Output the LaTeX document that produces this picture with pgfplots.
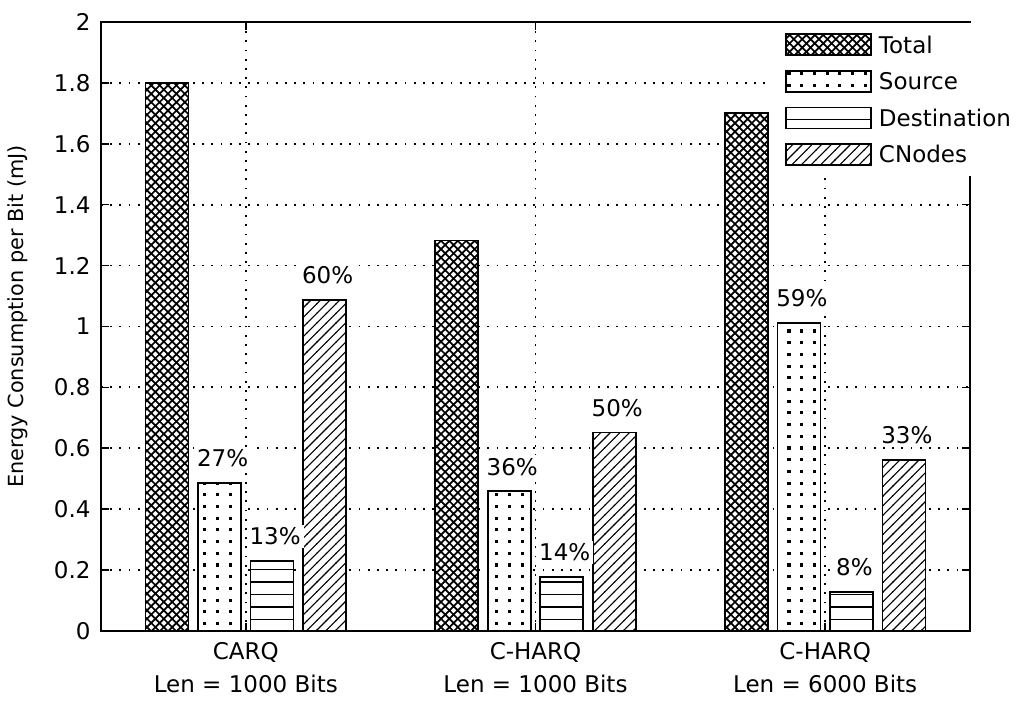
\documentclass[border=0pt]{standalone}
\usepackage{pgfplots}
\pgfplotsset{compat=1.18}
\usepackage{fontspec}
\setmainfont{DejaVu Sans}
\usetikzlibrary{patterns}

\pgfdeclarepatternformonly{xdiag}{\pgfqpoint{-0.6pt}{-0.6pt}}{\pgfqpoint{4.8pt}{4.8pt}}{\pgfqpoint{4.2pt}{4.2pt}}{%
  \pgfsetlinewidth{0.85pt}%
  \pgfpathmoveto{\pgfqpoint{-0.3pt}{-0.3pt}}\pgfpathlineto{\pgfqpoint{4.5pt}{4.5pt}}%
  \pgfpathmoveto{\pgfqpoint{-0.3pt}{4.5pt}}\pgfpathlineto{\pgfqpoint{4.5pt}{-0.3pt}}%
  \pgfusepath{stroke}}
\pgfdeclarepatternformonly{sqdots}{\pgfqpoint{-0.5pt}{-0.5pt}}{\pgfqpoint{6.6pt}{6.2pt}}{\pgfqpoint{6.35pt}{5.85pt}}{%
  \pgfpathrectangle{\pgfqpoint{0pt}{0pt}}{\pgfqpoint{1.55pt}{1.55pt}}%
  \pgfusepath{fill}}
\pgfdeclarepatternformonly{hlines}{\pgfqpoint{-0.5pt}{-0.5pt}}{\pgfqpoint{6.5pt}{6.5pt}}{\pgfqpoint{6.25pt}{6.25pt}}{%
  \pgfsetlinewidth{0.7pt}%
  \pgfpathmoveto{\pgfqpoint{-0.2pt}{0pt}}\pgfpathlineto{\pgfqpoint{6.45pt}{0pt}}%
  \pgfusepath{stroke}}
\pgfdeclarepatternformonly{dlines}{\pgfqpoint{-0.5pt}{-0.5pt}}{\pgfqpoint{5.3pt}{5.3pt}}{\pgfqpoint{4.8pt}{4.8pt}}{%
  \pgfsetlinewidth{0.55pt}%
  \pgfpathmoveto{\pgfqpoint{-0.2pt}{-0.2pt}}\pgfpathlineto{\pgfqpoint{5.0pt}{5.0pt}}%
  \pgfusepath{stroke}}

\newcommand{\lbl}{\fontsize{11.5}{16.25}\selectfont}
\newcommand{\ylbl}{\fontsize{10.4}{12.5}\selectfont}

\pgfplotstableread{
x total source dest cnodes
1 1.800 0.487 0.230 1.087
2 1.283 0.459 0.178 0.652
3 1.701 1.012 0.128 0.562
}\energy

\begin{document}
\begin{tikzpicture}
\useasboundingbox (-50.5pt,-38pt) rectangle (461.5pt,315.5pt);
\begin{axis}[
  at={(0,0)}, anchor=south west,
  scale only axis, width=434.5pt, height=304.5pt,
  xmin=0.5, xmax=3.5, ymin=0, ymax=2,
  enlargelimits=false,
  ybar, bar width=21.5pt,
  xtick={1,2,3},
  xticklabels={{CARQ\\Len = 1000 Bits},{C-HARQ\\Len = 1000 Bits},{C-HARQ\\Len = 6000 Bits}},
  xticklabel style={align=center, font=\lbl, yshift=-2.2pt},
  ytick={0,0.2,0.4,0.6,0.8,1,1.2,1.4,1.6,1.8,2},
  yticklabels={0,0.2,0.4,0.6,0.8,1,1.2,1.4,1.6,1.8,2},
  yticklabel style={font=\lbl, xshift=-1.7pt},
  tick align=inside, major tick length=4pt,
  tick style={black, line width=0.8pt},
  axis line style={line width=0.8pt},
  grid=major,
  major grid style={black, line width=0.9pt, dash pattern=on 0.9pt off 3.7pt},
  ylabel={Energy Consumption per Bit (mJ)},
  ylabel style={at={(axis description cs:-0.0955,0.5164)}, anchor=center, font=\ylbl},
  legend cell align=left,
  legend image code/.code={\draw[#1] (0pt,-5.25pt) rectangle (42.5pt,5.25pt);},
  legend style={at={(0.76985,1)}, anchor=north west, yshift=-0.5pt,
    draw=none, fill=white, inner xsep=7.5pt, inner ysep=5pt,
    row sep=7pt, column sep=2.5pt, font=\lbl,
    nodes={inner sep=1pt, text height=8.5pt, text depth=0pt}},
  every node near coord/.append style={font=\lbl, fill=white, text=black,
    inner sep=1.5pt, anchor=south, yshift=6pt, xshift=1.5pt},
]
% white backgrounds of the bars
\addplot[forget plot, fill=white, draw=none, bar shift=-39.375pt] table[x=x, y=total] {\energy};
\addplot[forget plot, fill=white, draw=none, bar shift=-13.125pt] table[x=x, y=source] {\energy};
\addplot[forget plot, fill=white, draw=none, bar shift=13.125pt] table[x=x, y=dest] {\energy};
\addplot[forget plot, fill=white, draw=none, bar shift=39.375pt] table[x=x, y=cnodes] {\energy};
% patterned bars
\addplot[draw=black, line width=0.8pt, pattern=xdiag, bar shift=-39.375pt]
  table[x=x, y=total] {\energy};
\addplot[draw=black, line width=0.8pt, pattern=sqdots, bar shift=-13.125pt,
  nodes near coords, point meta=explicit symbolic]
  coordinates {(1,0.487) [27\%] (2,0.459) [36\%] (3,1.012) [59\%]};
\addplot[draw=black, line width=0.8pt, pattern=hlines, bar shift=13.125pt,
  nodes near coords, point meta=explicit symbolic]
  coordinates {(1,0.230) [13\%] (2,0.178) [14\%] (3,0.128) [8\%]};
\addplot[draw=black, line width=0.8pt, pattern=dlines, bar shift=39.375pt,
  nodes near coords, point meta=explicit symbolic]
  coordinates {(1,1.087) [60\%] (2,0.652) [50\%] (3,0.562) [33\%]};
\legend{Total,Source,Destination,CNodes}
\end{axis}
\end{tikzpicture}
\end{document}
